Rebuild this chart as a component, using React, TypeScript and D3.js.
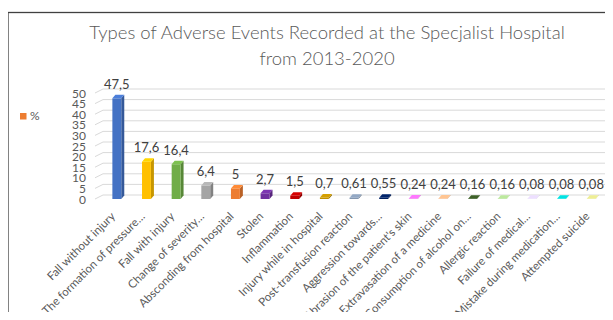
import React from "react";
import * as d3 from "d3";

const categories: string[] = [
  "Fall without injury",
  "The formation of pressure…",
  "Fall with injury",
  "Change of severity…",
  "Absconding from hospital",
  "Stolen",
  "Inflammation",
  "Injury while in hospital",
  "Post-transfusion reaction",
  "Aggression towards…",
  "Abrasion of the patient's skin",
  "Extravasation of a medicine",
  "Consumption of alcohol on…",
  "Allergic reaction",
  "Failure of medical…",
  "Mistake during medication…",
  "Attempted suicide",
];
const values: number[] = [47.5, 17.6, 16.4, 6.4, 5, 2.7, 1.5, 0.7, 0.61, 0.55, 0.24, 0.24, 0.16, 0.16, 0.08, 0.08, 0.08];
const valueLabels: string[] = ["47,5", "17,6", "16,4", "6,4", "5", "2,7", "1,5", "0,7", "0,61", "0,55", "0,24", "0,24", "0,16", "0,16", "0,08", "0,08", "0,08"];
const colors: string[] = [
  "#4472C4", "#FFC000", "#70AD47", "#A5A5A5", "#ED7D31", "#7030A0", "#C00000", "#BF9000",
  "#8497B0", "#002060", "#E46CE4", "#F4B183", "#375623", "#A9D18E", "#D5C8EE", "#00CCCC", "#D6D685",
];
const yTicks: number[] = [0, 5, 10, 15, 20, 25, 30, 35, 40, 45, 50];
const titleLines: string[] = ["Types of Adverse Events Recorded at the Specjalist Hospital", "from 2013-2020"];
const legendLabel = "%";

const FONT = "Lato, 'Open Sans', sans-serif";

export default function App() {
  const W = 613, H = 320;
  const x = d3.scaleBand<string>().domain(categories).range([102, 606]).paddingInner(0.7).paddingOuter(0.35);
  const yF = d3.scaleLinear().domain([0, 50]).range([199, 93]);
  const depthX = 3, depthY = -3.5;
  const wallDX = 8, wallDY = -4;
  const gridRight = 607;

  return (
    <div style={{ margin: -8 }}>
      <svg width={W} height={H} style={{ display: "block", fontFamily: FONT }}>
        <rect x={0} y={0} width={W} height={H} fill="#fff" />
        <rect x={8} y={12.5} width={604} height={320} fill="none" stroke="#404040" strokeWidth={1.3} />
        {titleLines.map((t, i) => (
          <text key={i} x={327} y={38.5 + i * 26} textAnchor="middle" fontSize={18.5} fill="#595959" fontWeight={300}>
            {t}
          </text>
        ))}
        {/* gridlines */}
        {yTicks.map((v) => {
          const yf = yF(v);
          const yb = yf + wallDY;
          return (
            <g key={v}>
              <line x1={95} y1={yf} x2={95 + wallDX} y2={yb} stroke="#d9d9d9" strokeWidth={1} />
              <line x1={95 + wallDX} y1={yb} x2={gridRight} y2={yb} stroke="#d9d9d9" strokeWidth={1} />
              <text x={86} y={yf + 1.5} textAnchor="end" dominantBaseline="middle" fontSize={12} fill="#595959">
                {v}
              </text>
            </g>
          );
        })}
        {/* bars */}
        {categories.map((c, i) => {
          const x0 = x(c)!;
          const bw = x.bandwidth();
          const yt = yF(values[i]);
          const yb = yF(0);
          const col = d3.color(colors[i])!;
          const dark = col.darker(0.7).formatHex();
          const light = col.brighter(0.3).formatHex();
          const side = `M${x0 + bw},${yb} L${x0 + bw + depthX},${yb + depthY} L${x0 + bw + depthX},${yt + depthY} L${x0 + bw},${yt} Z`;
          const top = `M${x0},${yt} L${x0 + depthX},${yt + depthY} L${x0 + bw + depthX},${yt + depthY} L${x0 + bw},${yt} Z`;
          return (
            <g key={c}>
              <path d={side} fill={dark} />
              <rect x={x0} y={yt} width={bw} height={yb - yt} fill={colors[i]} />
              <path d={top} fill={light} />
            </g>
          );
        })}
        {/* value labels */}
        {categories.map((c, i) => (
          <text
            key={"v" + c}
            x={x(c)! + x.bandwidth() / 2}
            y={yF(values[i]) - 13}
            textAnchor="middle"
            dominantBaseline="middle"
            fontSize={13}
            fill="#404040"
          >
            {valueLabels[i]}
          </text>
        ))}
        {/* x labels */}
        {categories.map((c) => {
          const cx = x(c)! + x.bandwidth() / 2;
          const ax = cx - 3;
          const ay = 215;
          return (
            <text
              key={"x" + c}
              transform={`translate(${ax},${ay}) rotate(-45)`}
              textAnchor="end"
              dominantBaseline="middle"
              fontSize={11.5}
              fill="#595959"
            >
              {c}
            </text>
          );
        })}
        {/* legend */}
        <rect x={20} y={113} width={6.5} height={6.5} fill="#ED7D31" />
        <text x={30} y={117} dominantBaseline="middle" fontSize={12} fill="#595959">
          {legendLabel}
        </text>
      </svg>
    </div>
  );
}
